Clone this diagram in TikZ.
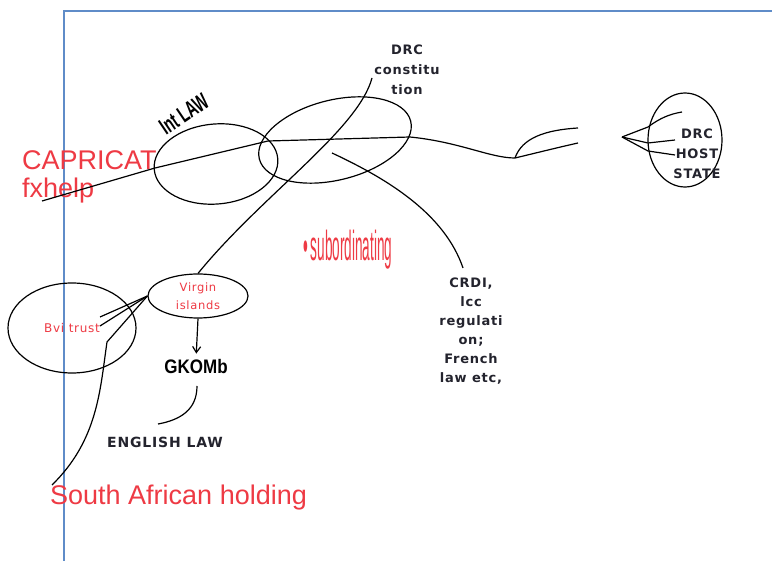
\documentclass[tikz,border=0pt]{standalone}
\usepackage{fontspec}
\setmainfont{Liberation Sans}
\newfontfamily\labelfont[LetterSpace=6]{DejaVu Sans}
\usetikzlibrary{arrows.meta,shapes.geometric}
\definecolor{frameblue}{RGB}{95,140,200}
\definecolor{notered}{RGB}{238,58,68}
\definecolor{inkdark}{RGB}{35,35,45}

\begin{document}
\begin{tikzpicture}[x=1pt,y=-1pt,
  ink/.style={black,line width=1.2pt},
  ring/.style={ellipse,draw=black,line width=1.2pt,inner sep=0pt},
  redbig/.style={text=notered,font=\fontsize{27}{28}\selectfont,inner sep=0pt,align=left},
  darksmall/.style={text=inkdark,font=\labelfont\bfseries\fontsize{13}{20}\selectfont,align=center,inner sep=0pt},
  redsmall/.style={text=notered,font=\labelfont\fontsize{12}{18}\selectfont,align=center,inner sep=0pt},
]
\useasboundingbox (0,0) rectangle (772,561);
\fill[white] (0,0) rectangle (772,561);

% page frame
\draw[frameblue,line width=2pt] (64,561) -- (64,11) -- (772,11);

% legal spheres
\node[ring,minimum width=124pt,minimum height=80pt,rotate=5] (intlaw) at (216,164) {};
\node[ring,minimum width=156pt,minimum height=80pt,rotate=14] (drc) at (335,140) {};
\node[ring,minimum width=74pt,minimum height=94pt] (host) at (685,140) {};
\node[ring,minimum width=128pt,minimum height=90pt,redsmall] (bvi) at (72,328) {Bvi trust};
\node[ring,minimum width=100pt,minimum height=44pt,redsmall,font=\labelfont\fontsize{11.5}{18}\selectfont] (virgin) at (198,296) {Virgin\\islands};

% labels
\node[redbig,anchor=north west] (capricat) at (22,150) {CAPRICAT\\fxhelp};
\node[redbig,anchor=base west] (sah) at (50,505) {South African holding};
\node[text=black,font=\bfseries\fontsize{18}{18}\selectfont,rotate=34,inner sep=0pt] (intlawlbl) at (184,114) {\scalebox{0.8}[1.3]{Int LAW}};
\node[darksmall] (constit) at (407,70) {DRC\\constitu\\tion};
\node[darksmall] (hostlbl) at (697,154) {DRC\\HOST\\STATE};
\node[darksmall,font=\labelfont\bfseries\fontsize{13}{19}\selectfont] (crdi) at (471,331) {CRDI,\\lcc\\regulati\\on;\\French\\law etc,};
\node[text=notered,font=\fontsize{20}{20}\selectfont,inner sep=0pt] (subord) at (348,250) {\scalebox{0.68}[2.1]{\textbullet\,subordinating}};
\node[text=black,font=\bfseries\fontsize{17}{17}\selectfont,inner sep=0pt] (komb) at (196,367) {\scalebox{1.0}[1.15]{GKOMb}};
\node[darksmall,font=\labelfont\bfseries\fontsize{14}{14}\selectfont] (english) at (165,442) {ENGLISH LAW};

% free ends of the hand-drawn connectors
\coordinate (capStart) at (42,201);
\coordinate (lawA) at (155,168);
\coordinate (lawB) at (268,141);
\coordinate (lawC) at (410,137);
\coordinate (hookBase) at (515,158);
\coordinate (hookUp) at (578,128);
\coordinate (hookLow) at (578,143);
\coordinate (constEnd) at (372,78);
\coordinate (crdiStart) at (332,153);
\coordinate (crdiEnd) at (463,268);
\coordinate (fanTip) at (622,137);
\coordinate (fanA) at (648,127);
\coordinate (fanB) at (648,143);
\coordinate (fanC) at (648,151);
\coordinate (fanAend) at (682,112);
\coordinate (fanBend) at (675,140);
\coordinate (fanCend) at (675,155);
\coordinate (bviA) at (100,317);
\coordinate (bviB) at (100,326);
\coordinate (bviC) at (107,342);
\coordinate (sahTop) at (52,485);
\coordinate (kombBot) at (197,386);
\coordinate (engTop) at (158,424);

% connectors
\draw[ink] (capStart) -- (lawA) -- (lawB) -- (lawC) .. controls (460,142) and (490,158) .. (hookBase);
\draw[ink] (hookBase) .. controls (522,138) and (545,130) .. (hookUp);
\draw[ink] (hookBase) .. controls (540,152) and (560,147) .. (hookLow);
\draw[ink] (constEnd) .. controls (358,130) and (262,195) .. (virgin.north);
\draw[ink] (crdiStart) .. controls (390,180) and (445,215) .. (crdiEnd);
\draw[ink] (fanTip) -- (fanA) .. controls (660,118) and (670,114) .. (fanAend);
\draw[ink] (fanTip) -- (fanB) -- (fanBend);
\draw[ink] (fanTip) -- (fanC) -- (fanCend);
\draw[ink] (virgin.west) -- (bviA);
\draw[ink] (virgin.west) -- (bviB);
\draw[ink] (virgin.west) -- (bviC) .. controls (100,390) and (98,440) .. (sahTop);
\draw[ink,-{Straight Barb[length=6pt,width=8pt]},shorten >=6pt] (virgin.south) -- (komb.north);
\draw[ink] (kombBot) .. controls (197,410) and (180,420) .. (engTop);
\end{tikzpicture}
\end{document}
